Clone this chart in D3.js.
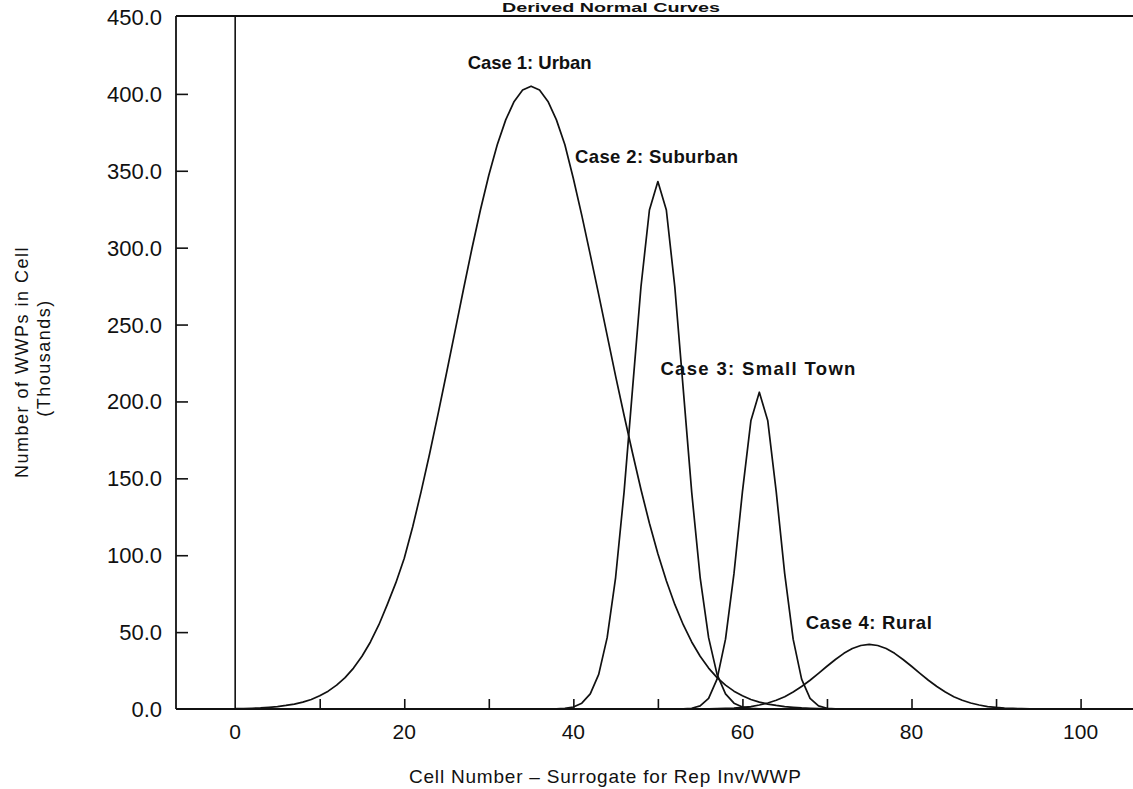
<!DOCTYPE html>
<html>
<head>
<meta charset="utf-8">
<script src="https://cdn.jsdelivr.net/npm/d3@7"></script>
<style>
  body { margin: 0; background: #fff; }
  svg { display: block; }
  text { font-family: "Liberation Sans", Arial, sans-serif; fill: #111; }
</style>
</head>
<body>
<svg id="chart" width="1133" height="789"></svg>
<script>
// Tick values
const xTickLabels = [0, 20, 40, 60, 80, 100];
const xTickMarks = [10, 20, 30, 40, 50, 60, 70, 80, 90, 100];
const yTickLabels = [0, 50, 100, 150, 200, 250, 300, 350, 400, 450];
const yTickMarks = [50, 100, 150, 200, 250, 300, 350, 400];

// Case names
const caseNames = ["Case 1: Urban", "Case 2: Suburban", "Case 3: Small Town", "Case 4: Rural"];

// Number of WWPs per cell (thousands)
const urbanCells = d3.range(0, 71);
const urbanValues = [
  0.2, 0.3, 0.5, 0.7, 1.1, 1.6, 2.3, 3.2, 4.5, 6.2,
  8.6, 11.6, 15.5, 20.4, 26.6, 34.3, 43.6, 54.8, 68.0, 82.0,
  98.0, 118.5, 141.5, 166.0, 191.9, 218.5, 245.6, 272.8, 299.3, 324.3,
  347.1, 366.9, 383.1, 395.1, 402.5, 405.0, 402.5, 395.1, 383.1, 366.9,
  345.0, 321.0, 295.5, 269.5, 243.0, 216.5, 191.0, 166.5, 142.7, 120.8,
  101.0, 83.4, 68.0, 54.8, 43.6, 34.3, 26.6, 20.4, 15.5, 11.6,
  8.6, 6.2, 4.5, 3.2, 2.3, 1.6, 1.1, 0.7, 0.5, 0.3, 0.2
];

const suburbanCells = d3.range(38, 63);
const suburbanValues = [
  0.1, 0.4, 1.3, 3.8, 9.8, 22.5, 46.4, 85.5, 141.0, 208.0,
  274.6, 324.5, 343.0, 324.5, 274.6, 208.0, 141.0, 85.5, 46.4, 22.5,
  9.8, 3.8, 1.3, 0.4, 0.1
];

const smallTownCells = d3.range(52, 73);
const smallTownValues = [
  0.0, 0.1, 0.5, 2.0, 6.9, 19.4, 45.4, 88.0, 141.2, 187.4,
  206.0, 187.4, 141.2, 88.0, 45.4, 19.4, 6.9, 2.0, 0.5, 0.1, 0.0
];

const ruralCells = d3.range(56, 95);
const ruralValues = [
  0.1, 0.2, 0.35, 0.6, 1.0, 1.6, 2.6, 3.9, 5.7, 8.0,
  11.0, 14.6, 18.7, 23.2, 27.8, 32.2, 36.2, 39.3, 41.3, 42.0,
  41.3, 39.3, 36.2, 32.2, 27.8, 23.2, 18.7, 14.6, 11.0, 8.0,
  5.7, 3.9, 2.6, 1.6, 1.0, 0.6, 0.35, 0.2, 0.1
];

const series = [
  { name: caseNames[0], cells: urbanCells, values: urbanValues },
  { name: caseNames[1], cells: suburbanCells, values: suburbanValues },
  { name: caseNames[2], cells: smallTownCells, values: smallTownValues },
  { name: caseNames[3], cells: ruralCells, values: ruralValues }
];

// Layout
const plot = { left: 176, right: 1133, top: 17, bottom: 709 };
const ink = "#111";

const svg = d3.select("#chart");

const x = d3.scaleLinear().domain([-7, 106.2]).range([plot.left, plot.right]);
const y = d3.scaleLinear().domain([0, 450]).range([plot.bottom, plot.top]);

// Title squeezed above the top rule
svg.append("text")
  .attr("x", 502).attr("y", 12)
  .attr("textLength", 218)
  .attr("lengthAdjust", "spacingAndGlyphs")
  .style("font-size", "13px").style("font-weight", "bold")
  .text("Derived Normal Curves");

// Frame: left axis, top rule and baseline
svg.append("line")
  .attr("x1", plot.left).attr("x2", plot.right)
  .attr("y1", plot.top - 1).attr("y2", plot.top - 1)
  .attr("stroke", ink).attr("stroke-width", 2.2);

svg.append("line")
  .attr("x1", plot.left).attr("x2", plot.left)
  .attr("y1", plot.top - 1).attr("y2", plot.bottom)
  .attr("stroke", ink).attr("stroke-width", 1.8);

svg.append("line")
  .attr("x1", plot.left).attr("x2", plot.right)
  .attr("y1", plot.bottom).attr("y2", plot.bottom)
  .attr("stroke", ink).attr("stroke-width", 2);

// Vertical rule at cell 0
svg.append("line")
  .attr("x1", x(0)).attr("x2", x(0))
  .attr("y1", plot.top - 1).attr("y2", plot.bottom)
  .attr("stroke", ink).attr("stroke-width", 1.6);

// Y axis: inward ticks, labels with one decimal
const yAxis = d3.axisRight(y)
  .tickValues(yTickMarks)
  .tickSize(12)
  .tickFormat("");
const yAxisG = svg.append("g")
  .attr("transform", `translate(${plot.left},0)`)
  .call(yAxis);
yAxisG.select(".domain").remove();
yAxisG.selectAll(".tick line").attr("stroke", ink).attr("stroke-width", 1.6);

svg.append("g").selectAll("text")
  .data(yTickLabels)
  .join("text")
  .attr("x", 162)
  .attr("y", d => y(d) + 8)
  .attr("text-anchor", "end")
  .style("font-size", "22px")
  .text(d => d3.format(".1f")(d));

// X axis: upward ticks every 10 cells, labels every 20
const xAxis = d3.axisTop(x)
  .tickValues(xTickMarks)
  .tickSize(10)
  .tickFormat("");
const xAxisG = svg.append("g")
  .attr("transform", `translate(0,${plot.bottom})`)
  .call(xAxis);
xAxisG.select(".domain").remove();
xAxisG.selectAll(".tick line").attr("stroke", ink).attr("stroke-width", 1.6);

svg.append("g").selectAll("text")
  .data(xTickLabels)
  .join("text")
  .attr("x", d => x(d))
  .attr("y", 739)
  .attr("text-anchor", "middle")
  .style("font-size", "21px")
  .text(d => d);

// Axis titles
svg.append("text")
  .attr("x", 409).attr("y", 783)
  .attr("textLength", 392)
  .attr("lengthAdjust", "spacing")
  .style("font-size", "19px")
  .text("Cell Number \u2013 Surrogate for Rep Inv/WWP");

svg.append("text")
  .attr("transform", "translate(28,362) rotate(-90)")
  .attr("text-anchor", "middle")
  .style("font-size", "18px")
  .style("letter-spacing", "1.5px")
  .text("Number of WWPs in Cell");

svg.append("text")
  .attr("transform", "translate(50,358) rotate(-90)")
  .attr("text-anchor", "middle")
  .style("font-size", "18px")
  .style("letter-spacing", "1.5px")
  .text("(Thousands)");

// Curves
const line = d3.line()
  .x(d => x(d[0]))
  .y(d => y(d[1]))
  .curve(d3.curveLinear);

svg.append("g").selectAll("path")
  .data(series)
  .join("path")
  .attr("d", s => line(s.cells.map((c, i) => [c, s.values[i]])))
  .attr("fill", "none")
  .attr("stroke", ink)
  .attr("stroke-width", 1.7)
  .attr("stroke-linejoin", "round");

// Case labels placed near each peak (data coordinates) with their set widths
const labelAnchors = [
  { cell: 27.5, value: 416, width: 124 },
  { cell: 40.2, value: 355, width: 163 },
  { cell: 50.3, value: 217, width: 195 },
  { cell: 67.5, value: 52, width: 126 }
];
svg.append("g").selectAll("text")
  .data(series)
  .join("text")
  .attr("x", (s, i) => x(labelAnchors[i].cell))
  .attr("y", (s, i) => y(labelAnchors[i].value))
  .attr("textLength", (s, i) => labelAnchors[i].width)
  .attr("lengthAdjust", "spacing")
  .style("font-size", "18.5px")
  .style("font-weight", "bold")
  .text(s => s.name);
</script>
</body>
</html>
